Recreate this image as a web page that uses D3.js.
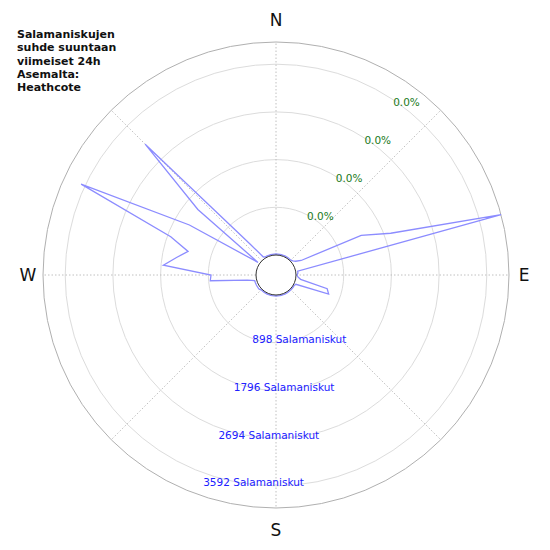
<!DOCTYPE html>
<html>
<head>
<meta charset="utf-8">
<script src="https://cdn.jsdelivr.net/npm/d3@7"></script>
<style>
  body { margin: 0; background: #fff; }
  text { font-family: "DejaVu Sans", sans-serif; }
</style>
</head>
<body>
<div id="chart"></div>
<script>
// strikes per direction, 5 degree steps starting from north
const angles = d3.range(0, 360, 5);
const strikes = [
  19, 19, 19, 19, 19, 19, 19, 19, 19, 19, 38, 75,
  170, 1393, 1921, 4011, 38, 38, 19, 38, 94, 621, 678, 38,
  19, 19, 19, 19, 19, 19, 19, 19, 19, 19, 19, 19,
  19, 19, 19, 19, 19, 19, 19, 19, 19, 19, 38, 38,
  38, 38, 38, 38, 170, 866, 847, 1751, 1525, 1337, 1732, 3672,
  1506, 38, 1544, 3107, 377, 38, 19, 19, 19, 19, 19, 19
];
const ringValues = [898, 1796, 2694, 3592];
const ringLabels = ["898 Salamaniskut", "1796 Salamaniskut", "2694 Salamaniskut", "3592 Salamaniskut"];
const pctLabels = ["0.0%", "0.0%", "0.0%", "0.0%"];
const compass = [["N", 0], ["E", 90], ["S", 180], ["W", 270]];
const titleLines = ["Salamaniskujen", "suhde suuntaan", "viimeiset 24h", "Asemalta:", "Heathcote"];

const W = 550, H = 550, cx = 276, cy = 275;
const hole = 20, maxValue = 4010;

const svg = d3.select("#chart").append("svg")
  .attr("width", W).attr("height", H);

const r = d3.scaleLinear().domain([0, maxValue]).range([hole, 233]);
const rad = d => d * Math.PI / 180;

const g = svg.append("g").attr("transform", `translate(${cx},${cy})`);

// outer circle
g.append("circle").attr("r", r(maxValue))
  .attr("fill", "none").attr("stroke", "#b0b0b0").attr("stroke-width", 1);

// rings
g.selectAll(".ring").data(ringValues).enter().append("circle")
  .attr("class", "ring")
  .attr("r", d => r(d))
  .attr("fill", "none").attr("stroke", "#dcdcdc").attr("stroke-width", 1);

// spokes
g.selectAll(".spoke").data(d3.range(0, 360, 45)).enter().append("line")
  .attr("x1", d => hole * Math.sin(rad(d)))
  .attr("y1", d => -hole * Math.cos(rad(d)))
  .attr("x2", d => r(maxValue) * Math.sin(rad(d)))
  .attr("y2", d => -r(maxValue) * Math.cos(rad(d)))
  .attr("stroke", "#c0c0c0").attr("stroke-dasharray", "1.5,2");

// data
const line = d3.lineRadial()
  .angle((d, i) => rad(angles[i]))
  .radius(d => r(d))
  .curve(d3.curveLinearClosed);

g.append("path").datum(strikes)
  .attr("d", line)
  .attr("fill", "none").attr("stroke", "#8c8cff").attr("stroke-width", 1.3);

// hole
g.append("circle").attr("r", hole)
  .attr("fill", "#fff").attr("stroke", "#333").attr("stroke-width", 1);

// ring labels
g.selectAll(".rl").data(ringValues).enter().append("text")
  .attr("x", d => 45 - 0.32 * r(d))
  .attr("y", d => r(d) - 3)
  .attr("dy", "0.35em")
  .attr("text-anchor", "middle")
  .attr("font-size", 10.5)
  .attr("fill", "#2020ff")
  .text((d, i) => ringLabels[i]);

g.selectAll(".pl").data(ringValues).enter().append("text")
  .attr("x", d => (r(d) + 6) * Math.sin(rad(37)))
  .attr("y", d => -(r(d) + 6) * Math.cos(rad(37)))
  .attr("dy", "0.35em")
  .attr("text-anchor", "middle")
  .attr("font-size", 10.5)
  .attr("fill", "#1a7a1a")
  .text((d, i) => pctLabels[i]);

// compass labels
g.selectAll(".cl").data(compass).enter().append("text")
  .attr("x", d => 248 * Math.sin(rad(d[1])))
  .attr("y", d => -255 * Math.cos(rad(d[1])))
  .attr("dy", "0.36em")
  .attr("text-anchor", "middle")
  .attr("font-size", 17)
  .attr("fill", "#111")
  .text(d => d[0]);

// title
svg.append("g").selectAll("text").data(titleLines).enter().append("text")
  .attr("x", 17)
  .attr("y", (d, i) => 38 + i * 13.3)
  .attr("font-size", 11)
  .attr("font-weight", "bold")
  .attr("fill", "#111")
  .text(d => d);
</script>
</body>
</html>
